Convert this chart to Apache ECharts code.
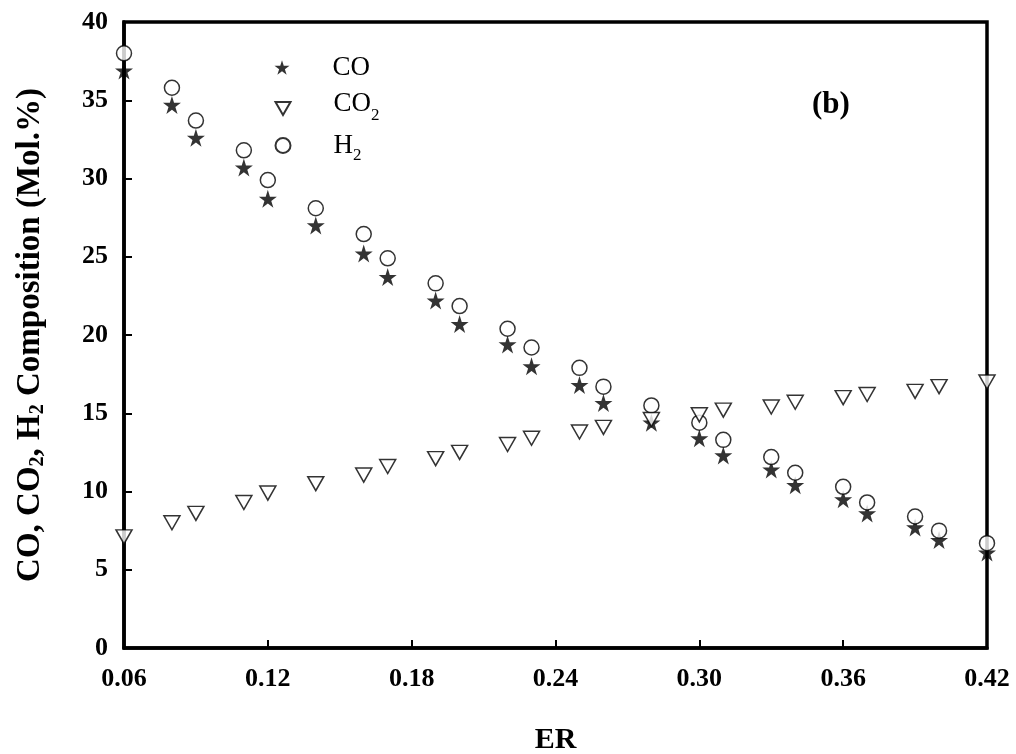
<!DOCTYPE html>
<html>
<head>
<meta charset="utf-8">
<script src="https://cdn.jsdelivr.net/npm/echarts@6/dist/echarts.min.js"></script>
<style>html,body{margin:0;padding:0;background:#fff}#c{width:1016px;height:754px}</style>
</head>
<body>
<div id="c"></div>
<script>
var ER  = [0.06,0.08,0.09,0.11,0.12,0.14,0.16,0.17,0.19,0.20,0.22,0.23,0.25,0.26,0.28,0.30,0.31,0.33,0.34,0.36,0.37,0.39,0.40,0.42];
var CO  = [36.9,34.7,32.6,30.7,28.7,27.0,25.2,23.7,22.2,20.7,19.4,18.0,16.8,15.65,14.4,13.4,12.3,11.4,10.4,9.5,8.6,7.7,6.9,6.1];
var CO2 = [7.1,8.0,8.6,9.3,9.9,10.5,11.05,11.6,12.1,12.5,13.0,13.4,13.8,14.1,14.6,14.9,15.2,15.4,15.7,16.0,16.2,16.4,16.7,17.0];
var H2  = [38.0,35.8,33.7,31.8,29.9,28.1,26.45,24.9,23.3,21.85,20.4,19.2,17.9,16.7,15.5,14.4,13.3,12.2,11.2,10.3,9.3,8.4,7.5,6.7];
var xTicks = [0.06,0.12,0.18,0.24,0.30,0.36,0.42];
var yTicks = [0,5,10,15,20,25,30,35,40];

function pairs(xs, ys){ return xs.map(function(x,i){ return [x, ys[i]]; }); }

var SERIF = 'Liberation Serif, Times New Roman, serif';
var STAR = 'path://M50,0 L61.2,34.5 L97.6,34.5 L68.2,55.9 L79.4,90.5 L50,69.1 L20.6,90.5 L31.8,55.9 L2.4,34.5 L38.8,34.5 Z';
var TRI = 'path://M0,0 L100,0 L50,86 Z';

var legendRich = {
  sp: {width: 38, height: 10},
  n:  {fontSize: 27, fontFamily: SERIF, color: '#000', lineHeight: 30},
  n2: {fontSize: 27, fontFamily: SERIF, color: '#000', lineHeight: 30, padding: [0,0,10,0]},
  s:  {fontSize: 17, fontFamily: SERIF, color: '#000', padding: [14,0,0,0]},
  s3: {fontSize: 17, fontFamily: SERIF, color: '#000', padding: [20,0,0,0]}
};
function legendFmt(name){
  if (name === 'CO') return '{sp|}{n|CO}';
  if (name === 'CO2') return '{sp|}{n2|CO}{s|2}';
  return '{sp|}{n|H}{s3|2}';
}
function mkLegend(name, top){
  return {
    data: [name], left: 274.5, top: top, padding: 0,
    itemWidth: 15, itemHeight: 15, selectedMode: false,
    formatter: legendFmt, textStyle: {rich: legendRich}
  };
}

var chart = echarts.init(document.getElementById('c'));
chart.setOption({
  animation: false,
  backgroundColor: '#fff',
  title: {text: '(b)', left: 812, top: 89, padding: 0,
    textStyle: {fontFamily: SERIF, fontWeight: 'bold', fontSize: 31, color: '#000'}},
  legend: [mkLegend('CO', 54), mkLegend('CO2', 90), mkLegend('H2', 132)],
  grid: {left: 124, right: 29, top: 22, bottom: 106, show: true, borderColor: '#000', borderWidth: 3.5,
    containLabel: false, outerBoundsMode: 'none'},
  xAxis: {
    type: 'value', min: 0.06, max: 0.42, interval: 0.06,
    name: 'ER', nameLocation: 'middle', nameGap: 77,
    nameTextStyle: {fontFamily: SERIF, fontWeight: 'bold', fontSize: 30, color: '#000'},
    axisLine: {lineStyle: {color: '#000', width: 3.5}},
    axisTick: {inside: true, length: 8, lineStyle: {color: '#000', width: 2}},
    splitLine: {show: false},
    axisLabel: {margin: 18, fontFamily: SERIF, fontWeight: 'bold', fontSize: 26, color: '#000',
      formatter: function(v){ return v.toFixed(2); }}
  },
  yAxis: {
    type: 'value', min: 0, max: 40, interval: 5,
    name: '{a|CO, CO}{b|2}{a|, H}{b|2}{a| Composition (Mol.%)}',
    nameLocation: 'middle', nameGap: 76, nameRotate: 90,
    nameTextStyle: {rich: {
      a: {fontFamily: SERIF, fontWeight: 'bold', fontSize: 33, color: '#000', lineHeight: 34},
      b: {fontFamily: SERIF, fontWeight: 'bold', fontSize: 20, color: '#000', padding: [16,0,0,0]}
    }},
    axisLine: {lineStyle: {color: '#000', width: 3.5}},
    axisTick: {inside: true, length: 8, lineStyle: {color: '#000', width: 2}},
    splitLine: {show: false},
    axisLabel: {margin: 16, fontFamily: SERIF, fontWeight: 'bold', fontSize: 26, color: '#000'}
  },
  series: [
    {name: 'CO', type: 'scatter', data: pairs(ER, CO), symbol: STAR, symbolSize: 18,
      itemStyle: {color: '#000'}, z: 2},
    {name: 'H2', type: 'scatter', data: pairs(ER, H2), symbol: 'circle', symbolSize: 15,
      itemStyle: {color: '#fff', borderColor: '#000', borderWidth: 1.5}, z: 3},
    {name: 'CO2', type: 'scatter', data: pairs(ER, CO2), symbol: TRI, symbolSize: [16, 14],
      itemStyle: {color: '#fff', borderColor: '#000', borderWidth: 1.5}, z: 4}
  ]
});
</script>
</body>
</html>
